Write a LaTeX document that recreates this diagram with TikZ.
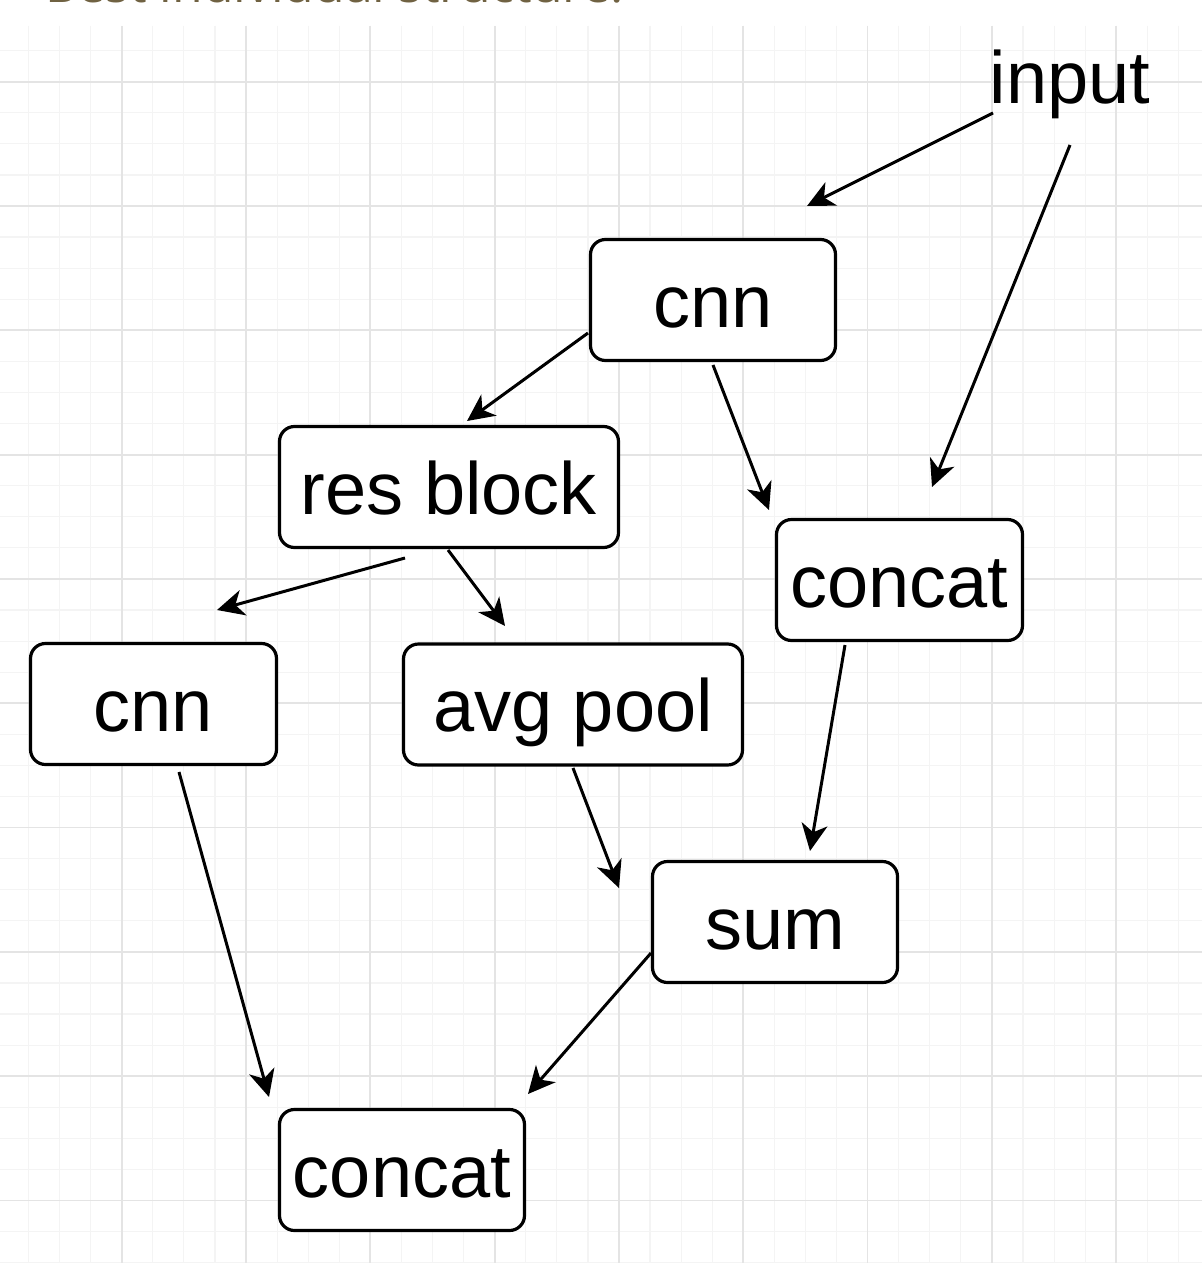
\documentclass[tikz,border=0pt]{standalone}
\usepackage{fontspec}
\setmainfont{Liberation Sans}
\newfontfamily\titlefont{Open Sans}
\usetikzlibrary{arrows.meta}
\definecolor{minorgrid}{RGB}{244,244,244}
\definecolor{majorgrid}{RGB}{228,228,228}
\definecolor{titlecol}{RGB}{112,98,66}
\tikzset{
  boxnode/.style={draw=black, line width=3.2pt, rounded corners=15pt, fill=white,
    minimum height=121pt, inner sep=0pt, font=\fontsize{74}{88}\selectfont,
    text height=64pt, text depth=10pt},
  plainlabel/.style={inner sep=0pt, font=\fontsize{74}{88}\selectfont,
    text height=64pt, text depth=10pt},
  conn/.style={draw=black, line width=3pt, -{Stealth[length=27pt,width=26pt,inset=8pt]}},
  minorline/.style={draw=minorgrid, line width=1.2pt},
  majorline/.style={draw=majorgrid, line width=1.8pt}
}
\begin{document}
\begin{tikzpicture}[x=1pt,y=-1pt]
\useasboundingbox (0,0) rectangle (1202,1263);
\fill[white] (0,0) rectangle (1202,1263);
% grid
\foreach \i in {0,...,39} {
  \draw[minorline] ({-2.6+31.08*\i},26) -- ({-2.6+31.08*\i},1263);
  \draw[minorline] (0,{50.6+31.08*\i}) -- (1202,{50.6+31.08*\i});
}
\foreach \i in {0,...,9} {
  \draw[majorline] ({121.7+124.3*\i},26) -- ({121.7+124.3*\i},1263);
  \draw[majorline] (0,{81.7+124.3*\i}) -- (1202,{81.7+124.3*\i});
}
% clipped title
\begin{scope}
\clip (0,0) rectangle (1202,26);
\node[anchor=base west, inner sep=0pt, text=titlecol] (title) at (45,2.5)
  {\resizebox{578pt}{!}{\titlefont Best individual structure:}};
\end{scope}
% nodes
\node[plainlabel] (input) at (1070,76) {input};
\node[boxnode, minimum width=245pt] (cnnA) at (713,300) {cnn};
\node[boxnode, minimum width=339pt] (res) at (449,487) {res block};
\node[boxnode, minimum width=246pt] (concatA) at (899.5,580) {concat};
\node[boxnode, minimum width=246pt] (cnnB) at (153.5,704) {cnn};
\node[boxnode, minimum width=339pt] (avg) at (573,704.5) {avg pool};
\node[boxnode, minimum width=245pt] (sum) at (775,922) {sum};
\node[boxnode, minimum width=245pt] (concatB) at (402,1170) {concat};
% connector end points
\coordinate (inA) at (993,113);   \coordinate (cnnAin) at (807,206);
\coordinate (inB) at (1070,145);  \coordinate (concatAin) at (932,487);
\coordinate (cnnAoutA) at (588,333); \coordinate (resin) at (467,421);
\coordinate (cnnAoutB) at (713,365); \coordinate (concatAinB) at (769,510);
\coordinate (resoutA) at (405,558); \coordinate (cnnBin) at (217,610);
\coordinate (resoutB) at (448,550); \coordinate (avgin) at (505,626);
\coordinate (concatAout) at (845,645); \coordinate (suminA) at (810,851);
\coordinate (avgout) at (573,768); \coordinate (suminB) at (619,888);
\coordinate (cnnBout) at (179,772); \coordinate (concatBinA) at (269,1097);
\coordinate (sumout) at (651,953); \coordinate (concatBinB) at (528,1094);
% connectors
\draw[conn] (inA) -- (cnnAin);
\draw[conn] (inB) -- (concatAin);
\draw[conn] (cnnAoutA) -- (resin);
\draw[conn] (cnnAoutB) -- (concatAinB);
\draw[conn] (resoutA) -- (cnnBin);
\draw[conn] (resoutB) -- (avgin);
\draw[conn] (concatAout) -- (suminA);
\draw[conn] (avgout) -- (suminB);
\draw[conn] (cnnBout) -- (concatBinA);
\draw[conn] (sumout) -- (concatBinB);
\end{tikzpicture}
\end{document}
